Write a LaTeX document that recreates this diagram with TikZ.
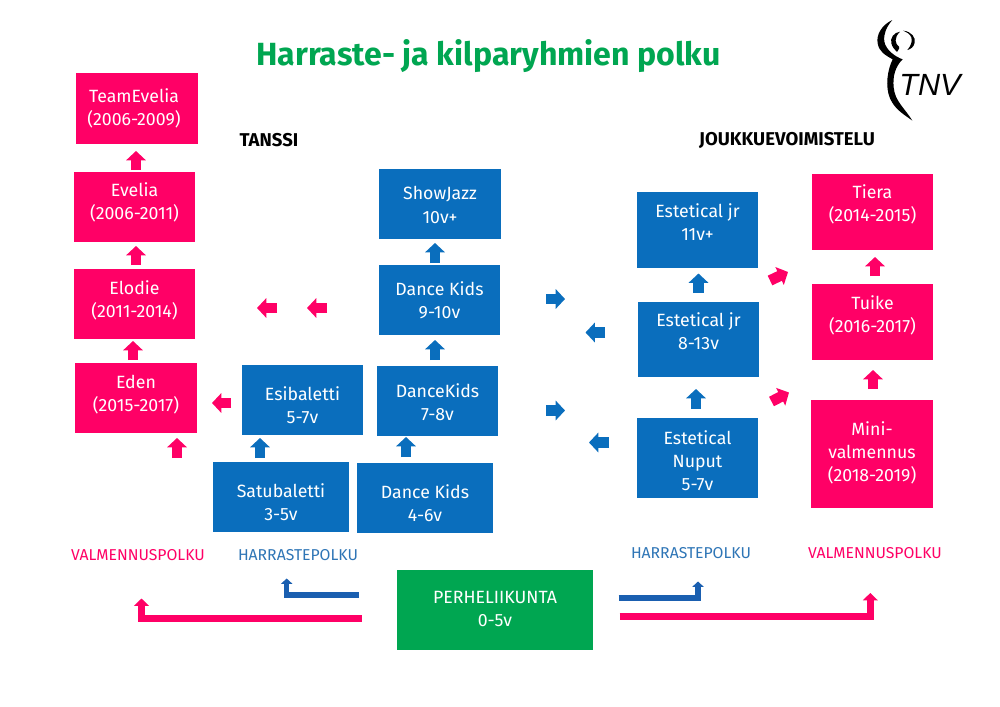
\documentclass[tikz,border=0pt]{standalone}
\usepackage{fontspec}
\setmainfont{Fira Sans}
\newfontfamily\tnvfont{Liberation Sans}
\usetikzlibrary{arrows.meta}
\definecolor{pk}{HTML}{FF0066}
\definecolor{bl}{HTML}{0A6EBD}
\definecolor{gr}{HTML}{00A651}
\definecolor{dbl}{HTML}{1A5FB0}
\definecolor{lbl}{HTML}{2E75B6}
\tikzset{
  x=0.75pt,y=-0.75pt,
  boxshape/.style={draw=none,inner sep=0pt,outer sep=0pt},
  boxtext/.style={white,align=center,inner sep=0pt,font=\fontsize{13.3}{17.3}\selectfont},
  head/.style={font=\fontsize{13.9}{16}\selectfont\bfseries,inner sep=0pt},
  pathlabel/.style={font=\fontsize{11.8}{14}\selectfont,inner sep=0pt},
  blockarrow/.style={line width=8pt,-{Triangle[length=7pt,width=14.5pt]}},
  bendpink/.style={pk,line width=5pt,miter limit=10,-{Triangle[length=5.5pt,width=11pt]}},
  bendblue/.style={dbl,line width=4.1pt,miter limit=10,-{Triangle[length=4pt,width=8.4pt]}},
}
% [text x offset], name, left, top, right, bottom, colour, text centre y, text
\newcommand{\bx}[9][0]{%
  \pgfmathsetmacro{\bxw}{(#5-#3)*0.75}\pgfmathsetmacro{\bxh}{(#6-#4)*0.75}%
  \node[boxshape,fill=#7,minimum width=\bxw pt,minimum height=\bxh pt] (#2) at ({(#3+#5)/2},{(#4+#6)/2}) {};
  \node[boxtext] (#2-t) at ({(#3+#5)/2+#1},#8) {#9};
}
% name, x1,y1,x2,y2, colour
\newcommand{\ar}[6]{%
  \coordinate (#1-a) at (#2,#3);\coordinate (#1-b) at (#4,#5);
  \draw[blockarrow,#6] (#1-a) -- (#1-b);
}
\begin{document}
\begin{tikzpicture}
\useasboundingbox (0,0) rectangle (1000,707);
\fill[white] (0,0) rectangle (1000,707);
\node[gr,inner sep=0pt,font=\fontsize{24.05}{28}\selectfont\bfseries] (title) at (488.5,56) {Harraste- ja kilparyhmien polku};
\node[head] (tanssi) at (269,140) {TANSSI};
\node[head] (jv) at (787,140) {JOUKKUEVOIMISTELU};
% boxes
\bx[-3]{team}{76}{73}{198}{144}{pk}{108}{TeamEvelia\hspace{7pt}\\(2006-2009)}
\bx{evelia}{74}{172}{195}{242}{pk}{202}{Evelia\\(2006-2011)}
\bx{elodie}{74}{269}{195}{339}{pk}{300}{Elodie\\(2011-2014)}
\bx{eden}{75}{363}{197}{433}{pk}{395}{Eden\hspace{4pt}\\(2015-2017)}
\bx{esi}{242}{365}{363}{435}{bl}{405}{Esibaletti\\5-7v}
\bx{satu}{213}{462}{349}{532}{bl}{502}{Satubaletti\\3-5v}
\bx{dk4}{357}{463}{493}{533}{bl}{503}{Dance Kids\\4-6v}
\bx{dk7}{377}{366}{498}{436}{bl}{402}{DanceKids\\7-8v}
\bx{dk9}{379}{265}{500}{335}{bl}{300}{Dance Kids\\9-10v}
\bx{show}{379}{169}{501}{239}{bl}{205}{ShowJazz\\10v+}
\bx{est11}{637}{192}{758}{268}{bl}{222}{Estetical jr\\11v+}
\bx{est8}{638}{302}{759}{377}{bl}{331}{Estetical jr\\8-13v}
\bx{nuput}{637}{418}{758}{498}{bl}{461}{Estetical\\Nuput\\5-7v}
\bx{tiera}{812}{174}{933}{250}{pk}{204}{Tiera\\(2014-2015)}
\bx{tuike}{812}{284}{933}{360}{pk}{315}{Tuike\\(2016-2017)}
\bx{mini}{811}{400}{933}{508}{pk}{453}{Mini-\\valmennus\\(2018-2019)}
\bx{perhe}{397}{570}{593}{650}{gr}{609}{PERHELIIKUNTA\\0-5v}
% labels
\node[pathlabel,pk] (v1) at (138,555) {VALMENNUSPOLKU};
\node[pathlabel,lbl] (h1) at (298,555) {HARRASTEPOLKU};
\node[pathlabel,lbl] (h2) at (691,553) {HARRASTEPOLKU};
\node[pathlabel,pk] (v2) at (875,553) {VALMENNUSPOLKU};
% block arrows
\ar{p1}{136}{170}{136}{151}{pk}
\ar{p2}{136}{265}{136}{246}{pk}
\ar{p3}{133}{360}{133}{341}{pk}
\ar{p4}{177}{458}{177}{438}{pk}
\ar{p5}{231}{403}{212}{403}{pk}
\ar{p6}{277}{308}{257}{308}{pk}
\ar{p7}{327}{308}{307}{308}{pk}
\ar{p8}{875}{276}{875}{257}{pk}
\ar{p9}{873}{389}{873}{370}{pk}
\ar{p10}{770}{280.5}{788}{272}{pk}
\ar{p11}{771.5}{401.5}{789}{392.5}{pk}
\ar{b1}{260}{458}{260}{438}{bl}
\ar{b2}{406}{457}{406}{437}{bl}
\ar{b3}{435}{360}{435}{340}{bl}
\ar{b4}{435}{263}{435}{243}{bl}
\ar{b5}{698.5}{293}{698.5}{273.5}{bl}
\ar{b6}{696}{408.5}{696}{389}{bl}
\ar{b7}{546}{299}{565}{299}{bl}
\ar{b8}{546}{410.5}{565}{410.5}{bl}
\ar{b9}{605}{332.5}{585.5}{332.5}{bl}
\ar{b10}{609}{442.5}{589}{442.5}{bl}
% bent path arrows
\coordinate (lp-a) at (361.5,618.7);\coordinate (lp-b) at (141.5,598.5);
\draw[bendpink] (lp-a) -| (lp-b);
\coordinate (lb-a) at (358.5,595);\coordinate (lb-b) at (286.7,578.5);
\draw[bendblue] (lb-a) -| (lb-b);
\coordinate (rb-a) at (618.5,598);\coordinate (rb-b) at (698,581.5);
\draw[bendblue] (rb-a) -| (rb-b);
\coordinate (rp-a) at (619.5,616.3);\coordinate (rp-b) at (870.3,593);
\draw[bendpink] (rp-a) -| (rp-b);
% logo
\begin{scope}[shift={(850,0)},x=0.25pt,y=-0.25pt]
\fill[black] (127,60) .. controls (95,75) and (78,105) .. (83,130) .. controls (87,155) and (105,165) .. (128,178)
  .. controls (112,210) and (105,260) .. (120,295) .. controls (135,330) and (165,345) .. (187,362)
  .. controls (165,325) and (135,305) .. (131,262) .. controls (128,230) and (135,200) .. (158,178)
  .. controls (135,170) and (108,150) .. (103,125) .. controls (100,100) and (110,80) .. (127,60) -- cycle;
\fill[black] (150,95) .. controls (130,98) and (120,115) .. (124,130) .. controls (127,142) and (135,150) .. (141,156)
  .. controls (146,148) and (150,144) .. (147,140) .. controls (136,132) and (130,115) .. (150,95) -- cycle;
\fill[black] (160,92) .. controls (185,95) and (197,112) .. (194,128) .. controls (192,140) and (182,148) .. (172,150)
  .. controls (182,138) and (188,125) .. (184,112) .. controls (180,102) and (170,96) .. (160,92) -- cycle;
\node[font=\fontsize{23}{26}\selectfont\tnvfont\itshape,inner sep=0pt] (tnv) at (240,255) {TNV};
\end{scope}
\end{tikzpicture}
\end{document}
